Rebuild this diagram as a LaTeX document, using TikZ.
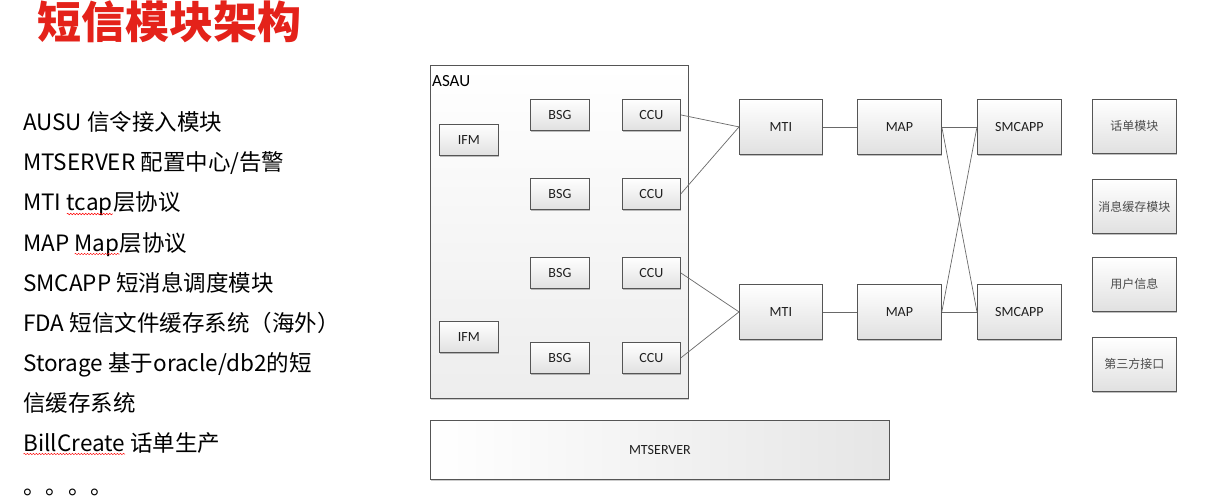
\documentclass[tikz,border=0pt]{standalone}
\usepackage{fontspec}
\usetikzlibrary{shadows,decorations.pathmorphing}
\setmainfont{Noto Sans CJK SC}
\newfontfamily\cjk{Noto Sans CJK SC}
\newfontfamily\boxfont{Carlito}
\definecolor{titlered}{RGB}{228,34,26}
\definecolor{edge}{RGB}{85,85,85}
\definecolor{wire}{RGB}{105,105,105}
\newcommand\spellwave[1]{\tikz[baseline=(w.base)]{\node[inner sep=0pt, outer sep=0pt] (w) {#1};
  \draw[red, line width=0.5pt, decorate, decoration={snake, amplitude=0.7pt, segment length=3pt}]
    ([yshift=-3pt]w.base west) -- ([yshift=-3pt]w.base east);}}
\tikzset{
  box/.style={draw=edge, line width=0.8pt, top color=white, bottom color=black!12,
    drop shadow={shadow xshift=1pt, shadow yshift=-1.2pt, opacity=0.25, fill=black},
    inner sep=0pt, anchor=north west, font=\boxfont\fontsize{14}{16}\selectfont, text=black!88},
  cbox/.style={box, font=\cjk\fontsize{12}{14}\selectfont, text=black!70},
  container/.style={draw=edge, line width=0.8pt, top color=white, bottom color=black!7,
    drop shadow={shadow xshift=1pt, shadow yshift=-1.2pt, opacity=0.2, fill=black},
    inner sep=0pt, anchor=north west},
  wide/.style={draw=edge, line width=0.8pt, left color=white, right color=black!10,
    drop shadow={shadow xshift=1pt, shadow yshift=-1.2pt, opacity=0.2, fill=black},
    inner sep=0pt, anchor=north west, font=\boxfont\fontsize{14}{16}\selectfont, text=black!88},
  listtext/.style={anchor=base west, inner sep=0pt, font=\fontsize{22.5}{26}\selectfont, text=black},
  wire/.style={draw=wire, line width=0.7pt}
}
\begin{document}
\begin{tikzpicture}[x=1pt,y=-1pt]
\useasboundingbox[fill=white] (0,0) rectangle (1208,500);

% title
\node[anchor=base west, inner sep=0pt, font=\cjk\bfseries\fontsize{44}{48}\selectfont, text=titlered] (title) at (37,39) {短信模块架构};

% list
\node[listtext] (l1) at (23,131) {AUSU 信令接入模块};
\node[listtext] (l2) at (23,171) {MTSERVER 配置中心/告警};
\node[listtext] (l3) at (23,211) {MTI \spellwave{tcap}层协议};
\node[listtext] (l4) at (23,251) {MAP \spellwave{Map}层协议};
\node[listtext] (l5) at (23,291) {SMCAPP 短消息调度模块};
\node[listtext] (l6) at (23,331) {FDA 短信文件缓存系统（海外）};
\node[listtext] (l7) at (23,371) {Storage 基于oracle/db2的短};
\node[listtext] (l8) at (23,411) {信缓存系统};
\node[listtext] (l9) at (23,451) {\spellwave{BillCreate} 话单生产};
\node[listtext] (l10) at (23,494) {。。。。};

% ASAU container
\node[container, minimum width=258pt, minimum height=333pt] (asau) at (430,65) {};
\node[anchor=base west, inner sep=0pt, font=\boxfont\fontsize{17}{19}\selectfont] (asaul) at (432,87) {ASAU};

\node[box, minimum width=59pt, minimum height=31pt] (ifm1) at (439,124) {IFM};
\node[box, minimum width=59pt, minimum height=31pt] (ifm2) at (439,321) {IFM};

\node[box, minimum width=59pt, minimum height=31pt] (bsg1) at (530,99) {BSG};
\node[box, minimum width=59pt, minimum height=31pt] (bsg2) at (530,178) {BSG};
\node[box, minimum width=59pt, minimum height=31pt] (bsg3) at (530,257) {BSG};
\node[box, minimum width=59pt, minimum height=31pt] (bsg4) at (530,342) {BSG};

\node[box, minimum width=58pt, minimum height=31pt] (ccu1) at (622,99) {CCU};
\node[box, minimum width=58pt, minimum height=31pt] (ccu2) at (622,178) {CCU};
\node[box, minimum width=58pt, minimum height=31pt] (ccu3) at (622,257) {CCU};
\node[box, minimum width=58pt, minimum height=31pt] (ccu4) at (622,342) {CCU};

\node[box, minimum width=83pt, minimum height=55pt] (mti1) at (739,99) {MTI};
\node[box, minimum width=83pt, minimum height=55pt] (mti2) at (739,284) {MTI};
\node[box, minimum width=84pt, minimum height=55pt] (map1) at (857,99) {MAP};
\node[box, minimum width=84pt, minimum height=55pt] (map2) at (857,284) {MAP};
\node[box, minimum width=84pt, minimum height=55pt] (sm1) at (977,99) {SMCAPP};
\node[box, minimum width=84pt, minimum height=55pt] (sm2) at (977,284) {SMCAPP};

\node[cbox, minimum width=84pt, minimum height=54pt] (r1) at (1092,99) {话单模块};
\node[cbox, minimum width=84pt, minimum height=54pt] (r2) at (1092,179) {消息缓存模块};
\node[cbox, minimum width=84pt, minimum height=54pt] (r3) at (1092,257) {用户信息};
\node[cbox, minimum width=84pt, minimum height=54pt] (r4) at (1092,337) {第三方接口};

\node[wide, minimum width=459pt, minimum height=59pt] (mts) at (430,420) {MTSERVER};

% connectors
\draw[wire] (ccu1.east) -- (mti1.west);
\draw[wire] (ccu2.east) -- (mti1.west);
\draw[wire] (ccu3.east) -- (mti2.west);
\draw[wire] (ccu4.east) -- (mti2.west);
\draw[wire] (mti1.east) -- (map1.west);
\draw[wire] (mti2.east) -- (map2.west);
\draw[wire] (map1.east) -- (sm1.west);
\draw[wire] (map1.east) -- (sm2.west);
\draw[wire] (map2.east) -- (sm1.west);
\draw[wire] (map2.east) -- (sm2.west);
\end{tikzpicture}
\end{document}
